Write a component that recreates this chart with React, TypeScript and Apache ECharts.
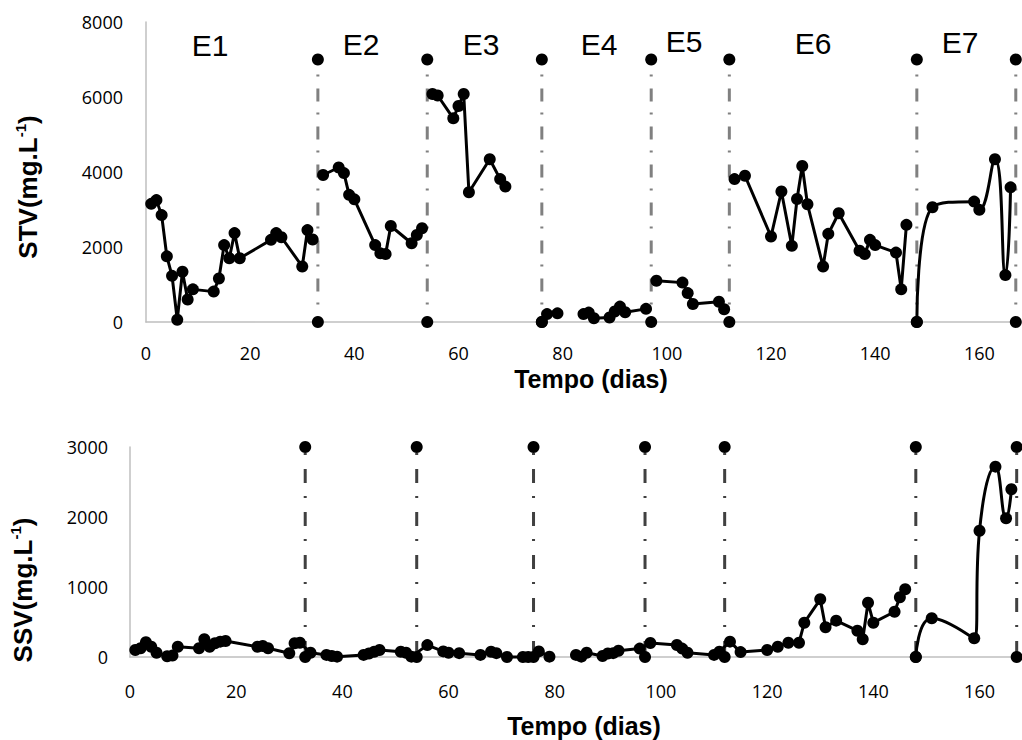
import React, { useEffect, useRef } from "react";
import * as echarts from "echarts";

// ---- Phase boundaries (days) ----
const boundaryDays = [33, 54, 76, 97, 112, 148, 167];
const phaseLabels = ["E1", "E2", "E3", "E4", "E5", "E6", "E7"];

// ---- X / Y axis ticks ----
const xMin = 0;
const xMax = 168;
const xStep = 20;
const stvMax = 8000;
const stvStep = 2000;
const stvMarkerTop = 7000;
const ssvMax = 3000;
const ssvStep = 1000;

// ---- STV (top chart), one run per phase ----
const e1Days = [1, 2, 3, 4, 5, 6, 7, 8, 9, 13, 14, 15, 16, 17, 18, 24, 25, 26, 30, 31, 32];
const e1Stv = [3150, 3250, 2850, 1750, 1230, 60, 1340, 600, 870, 810, 1160, 2050, 1700, 2370, 1700, 2190, 2370, 2260, 1480, 2450, 2200];

const e2Days = [34, 37, 38, 39, 40, 44, 45, 46, 47, 51, 52, 53];
const e2Stv = [3920, 4120, 3970, 3390, 3270, 2050, 1830, 1810, 2560, 2100, 2320, 2500];

const e3Days = [55, 56, 59, 60, 61, 62, 66, 68, 69];
const e3Stv = [6080, 6040, 5430, 5760, 6080, 3460, 4340, 3810, 3610];

const e4aDays = [76, 77, 79];
const e4aStv = [0, 210, 230];
const e4bDays = [84, 85, 86, 89, 90, 91, 92, 96];
const e4bStv = [210, 250, 100, 120, 280, 410, 260, 350];

const e5Days = [98, 103, 104, 105, 110, 111];
const e5Stv = [1100, 1050, 770, 480, 540, 340];

const e6Days = [113, 115, 120, 122, 124, 125, 126, 127, 130, 131, 133, 137, 138, 139, 140, 144, 145, 146];
const e6Stv = [3810, 3900, 2280, 3480, 2030, 3280, 4160, 3140, 1480, 2350, 2900, 1900, 1810, 2190, 2050, 1850, 870, 2590];

const e7Days = [148, 151, 159, 160, 163, 165, 166];
const e7Stv = [0, 3060, 3210, 2990, 4340, 1250, 3590];

// ---- SSV (bottom chart) ----
const ssvADays = [1, 2, 3, 4, 5, 7, 8, 9, 13, 14, 15, 16, 17, 18, 24, 25, 26, 30, 31, 32,
  34, 37, 38, 39, 44, 45, 46, 47, 51, 52, 53,
  56, 59, 60, 62, 66, 68, 69, 71, 74, 75, 77, 79];
const ssvA = [100, 124, 210, 147, 61, 10, 20, 147, 124, 253, 147, 196, 219, 229, 147, 157, 124, 53, 196, 204,
  60, 30, 15, 5, 30, 50, 75, 100, 75, 60, 5,
  170, 80, 60, 55, 30, 75, 55, 0, 0, 0, 80, 5];

const ssvBDays = [84, 85, 86, 89, 90, 91, 92, 96, 98, 103, 104, 105, 110, 111,
  113, 115, 120, 122, 124, 126, 127, 130, 131, 133, 137, 138, 139, 140, 144, 145, 146];
const ssvB = [30, 5, 60, 15, 50, 55, 90, 120, 200, 171, 120, 60, 30, 76,
  219, 70, 100, 147, 204, 204, 490, 824, 424, 519, 376, 253, 776, 490, 647, 853, 967];

const ssvCDays = [148, 151, 159, 160, 163, 165, 166];
const ssvC = [0, 553, 267, 1804, 2719, 1981, 2396];

const zip = (xs: number[], ys: number[]) => xs.map((x, i) => [x, ys[i]]);

export default function App() {
  const ref = useRef<HTMLDivElement>(null);

  useEffect(() => {
    document.body.style.margin = "0";
    if (!ref.current) return;
    const chart = echarts.init(ref.current, undefined, { renderer: "svg" });

    const tickFont = {
      fontFamily: "Open Sans",
      fontSize: 18,
      lineHeight: 20,
      color: "#000",
      formatter: (v: number) => String(v),
    };
    const axisLine = { show: true, lineStyle: { color: "#bfbfbf", width: 1.5 } };

    const dataLine = (name: string, data: number[][], idx: number, smooth = false) => ({
      name,
      type: "line",
      xAxisIndex: idx,
      yAxisIndex: idx,
      data,
      smooth,
      clip: false,
      symbol: "circle",
      symbolSize: 12,
      z: 3,
      itemStyle: { color: "#000" },
      lineStyle: { color: "#000", width: 3 },
    });

    const divider = (d: number, top: number, idx: number, color: string, dash: number[], offset: number) => ({
      type: "line",
      xAxisIndex: idx,
      yAxisIndex: idx,
      data: [[d, top], [d, 0]],
      clip: false,
      symbol: "circle",
      symbolSize: 12,
      z: 2,
      itemStyle: { color: "#000" },
      lineStyle: { color, width: 3, type: dash, dashOffset: offset },
    });

    const series: any[] = [
      ...boundaryDays.map((d) => divider(d, stvMarkerTop, 0, "#808080", [13, 11, 2, 12], 9)),
      ...boundaryDays.map((d) => divider(d, ssvMax, 1, "#404040", [14, 13, 2, 14], 21)),
      dataLine("E1", zip(e1Days, e1Stv), 0),
      dataLine("E2", zip(e2Days, e2Stv), 0),
      dataLine("E3", zip(e3Days, e3Stv), 0),
      dataLine("E4a", zip(e4aDays, e4aStv), 0),
      dataLine("E4b", zip(e4bDays, e4bStv), 0),
      dataLine("E5", zip(e5Days, e5Stv), 0),
      dataLine("E6", zip(e6Days, e6Stv), 0),
      dataLine("E7", zip(e7Days, e7Stv), 0, true),
      dataLine("SSV-A", zip(ssvADays, ssvA), 1),
      dataLine("SSV-B", zip(ssvBDays, ssvB), 1),
      dataLine("SSV-C", zip(ssvCDays, ssvC), 1, true),
    ];

    const labelPos = [
      [210, 45], [361, 44], [481, 44], [599, 44], [684, 41], [813, 43], [960, 42],
    ];

    const yTitle = (main: string, x: number, y: number) => ({
      type: "text",
      x,
      y,
      rotation: Math.PI / 2,
      style: {
        text: `{a|${main}}{s|-1}{a|)}`,
        align: "center",
        verticalAlign: "middle",
        rich: {
          a: { fontFamily: "Liberation Sans", fontWeight: "bold", fontSize: 26, fill: "#000", lineHeight: 30 },
          s: { fontFamily: "Liberation Sans", fontWeight: "bold", fontSize: 15, fill: "#000", verticalAlign: "top", lineHeight: 14 },
        },
      },
    });

    const xTitle = (x: number, y: number) => ({
      type: "text",
      x,
      y,
      style: {
        text: "Tempo (dias)",
        fontFamily: "Liberation Sans",
        fontWeight: "bold",
        fontSize: 25,
        lineHeight: 25,
        fill: "#000",
        align: "center",
        verticalAlign: "middle",
      },
    });

    const graphic: any[] = [
      ...phaseLabels.map((t, i) => ({
        type: "text",
        x: labelPos[i][0],
        y: labelPos[i][1],
        style: {
          text: t,
          fontFamily: "Liberation Sans",
          fontSize: 30,
          fill: "#000",
          align: "center",
          verticalAlign: "middle",
        },
      })),
      yTitle("STV(mg.L", 28, 187),
      yTitle("SSV(mg.L", 23, 590),
      xTitle(591, 379),
      xTitle(584, 726),
    ];

    chart.setOption({
      animation: false,
      backgroundColor: "#fff",
      grid: [
        { left: 146, top: 22, width: 875, height: 300 },
        { left: 130, top: 447, width: 895, height: 210 },
      ],
      xAxis: [0, 1].map((i) => ({
        gridIndex: i,
        type: "value",
        min: xMin,
        max: xMax,
        interval: xStep,
        axisLine,
        axisTick: { show: false },
        splitLine: { show: false },
        axisLabel: { ...tickFont, margin: i === 0 ? 21 : 24, showMaxLabel: false },
      })),
      yAxis: [
        {
          gridIndex: 0,
          type: "value",
          min: 0,
          max: stvMax,
          interval: stvStep,
          axisLine,
          axisTick: { show: false },
          splitLine: { show: false },
          axisLabel: { ...tickFont, margin: 23 },
        },
        {
          gridIndex: 1,
          type: "value",
          min: 0,
          max: ssvMax,
          interval: ssvStep,
          axisLine,
          axisTick: { show: false },
          splitLine: { show: false },
          axisLabel: { ...tickFont, margin: 22 },
        },
      ],
      series,
      graphic,
    });

    return () => chart.dispose();
  }, []);

  return <div ref={ref} style={{ width: 1022, height: 740 }} />;
}
